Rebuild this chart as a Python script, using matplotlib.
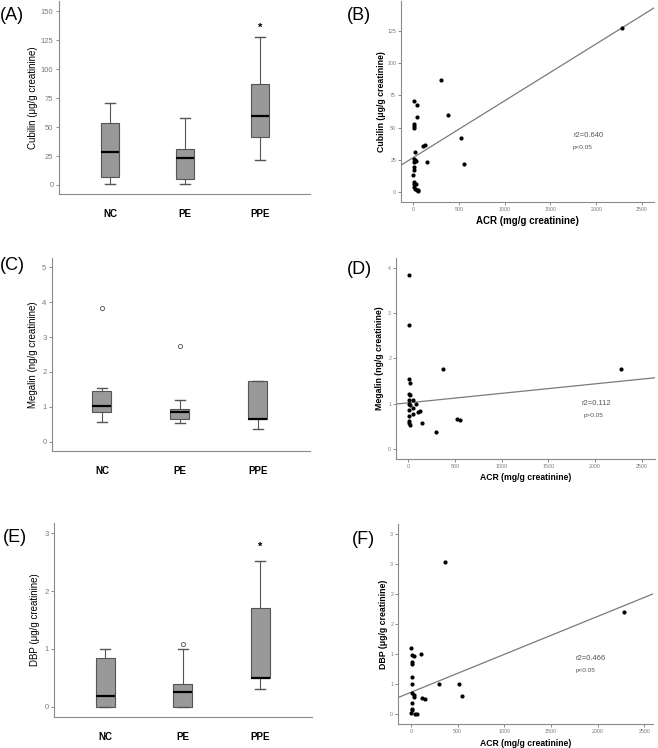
import matplotlib.pyplot as plt

plt.rcParams["font.family"] = ["Liberation Sans", "DejaVu Sans"]

W, H = 658, 748

groups = ["NC", "PE", "PPE"]

# box stats: whislo, q1, med, q3, whishi
cubilin_box = [[0.6, 6.9, 28.2, 53.4, 71.0],
               [1.1, 5.5, 23.3, 31.0, 57.8],
               [21.6, 41.7, 59.8, 87.1, 127.6]]
cubilin_fliers = [[], [], []]
cubilin_star = 136

megalin_box = [[0.55, 0.84, 1.03, 1.46, 1.55],
               [0.52, 0.64, 0.84, 0.93, 1.18],
               [0.35, 0.65, 0.65, 1.75, 1.75]]
megalin_fliers = [[3.83], [2.74], []]

dbp_box = [[0.0, 0.0, 0.18, 0.84, 1.0],
           [0.0, 0.0, 0.25, 0.40, 1.0],
           [0.30, 0.49, 0.49, 1.70, 2.53]]
dbp_fliers = [[], [1.09], []]
dbp_star = 2.76

# scatter data, ACR vs marker
acr_b = [2281, 310, 379, 524, 557, 149, 113, 131, 11, 47, 40, 8, 12, 10, 25,
         10, 20, 35, 12, 8, 6, 4, 6, 12, 30, 12, 25, 40, 55, 60]
cub_b = [126.8, 86.8, 59.8, 41.5, 21.9, 23.0, 36.0, 36.8, 70.3, 67.5, 58.0, 53.0,
         51.5, 50.0, 30.9, 25.8, 25.0, 24.4, 23.3, 19.3, 16.8, 13.4, 7.7, 6.5,
         6.2, 4.0, 2.7, 1.4, 1.4, 1.2]
fit_b = (26.6, 0.0441)

acr_d = [4, 4, 375, 2278, 11, 13, 11, 14, 6, 47, 82, 12, 15, 11, 47, 125, 107,
         47, 11, 11, 6, 14, 150, 296, 517, 553]
meg_d = [3.83, 2.74, 1.76, 1.76, 1.55, 1.46, 1.22, 1.18, 1.09, 1.09, 0.99, 1.0,
         0.97, 0.87, 0.9, 0.83, 0.81, 0.77, 0.72, 0.61, 0.57, 0.54, 0.57, 0.37,
         0.66, 0.65]
fit_d = (1.018, 0.000209)

acr_f = [369, 2283, 0, 8, 32, 107, 8, 11, 11, 8, 303, 517, 550, 11, 32, 36,
         114, 150, 11, 8, 14, 4, 40, 64]
dbp_f = [2.53, 1.70, 1.1, 0.99, 0.98, 1.0, 0.88, 0.84, 0.63, 0.5, 0.5, 0.5, 0.3,
         0.35, 0.32, 0.29, 0.28, 0.25, 0.19, 0.09, 0.07, 0.02, 0.0, 0.0]
fit_f = (0.368, 0.000632)

spine_c = "#8a8a8a"
tick_c = "#7a7a7a"

fig = plt.figure(figsize=(W / 100, H / 100), dpi=100)


def ax_px(l, t, r, b):
    return fig.add_axes([l / W, 1 - b / H, (r - l) / W, (b - t) / H])


def style(ax):
    for s in ["top", "right"]:
        ax.spines[s].set_visible(False)
    for s in ["left", "bottom"]:
        ax.spines[s].set_color(spine_c)
        ax.spines[s].set_linewidth(0.8)


def put_letter(letter):
    fig.text(letter[1] / W, 1 - letter[2] / H, letter[0], fontsize=13,
             ha="left", va="center")


def box_panel(rect, box, fliers, ylim, yticks, ylabel, letter, lab_x, star=None,
              xlim=(0.33, 3.67)):
    ax = ax_px(*rect)
    style(ax)
    stats = []
    for b, f in zip(box, fliers):
        stats.append(dict(whislo=b[0], q1=b[1], med=b[2], q3=b[3], whishi=b[4], fliers=f))
    ax.bxp(stats, positions=[1, 2, 3], widths=0.245, capwidths=0.13, patch_artist=True,
           boxprops=dict(facecolor="#999999", edgecolor="#555555", linewidth=0.8),
           whiskerprops=dict(color="#555555", linewidth=0.8),
           capprops=dict(color="#555555", linewidth=1.0),
           medianprops=dict(color="black", linewidth=1.6),
           flierprops=dict(marker="o", markersize=3, markerfacecolor="none",
                           markeredgecolor="#666666", markeredgewidth=0.7))
    if star is not None:
        ax.text(3, star, "*", ha="center", va="center", fontsize=8, fontweight="bold")
    ax.set_xlim(*xlim)
    ax.set_ylim(*ylim)
    ax.set_yticks(yticks)
    ax.set_xticks([1, 2, 3])
    ax.set_xticklabels(groups, fontsize=7, fontweight="bold")
    ax.tick_params(axis="x", length=0, pad=11)
    ax.tick_params(axis="y", length=2.5, width=0.6, color=tick_c, labelcolor=tick_c,
                   labelsize=5.5, pad=1.5)
    ax.set_ylabel(ylabel, fontsize=7)
    l, t, r, b = rect
    # label coords refer to the right edge of the rotated text
    ax.yaxis.set_label_coords((lab_x + 4.5 - l) / (r - l), 0.5)
    put_letter(letter)
    return ax


def scatter_panel(rect, x, y, fit, xlim, ylim, yticks, ylabel, letter, lab_x, lab_y,
                  txt, yticklabels=None, xlab_size=6.2):
    ax = ax_px(*rect)
    style(ax)
    ax.scatter(x, y, s=9, color="black", zorder=3, linewidths=0)
    xs = [xlim[0], xlim[1]]
    ax.plot(xs, [fit[0] + fit[1] * v for v in xs], color="#7a7a7a", linewidth=0.9)
    ax.set_xlim(*xlim)
    ax.set_ylim(*ylim)
    ax.set_xticks([0, 500, 1000, 1500, 2000, 2500])
    ax.set_yticks(yticks)
    if yticklabels is not None:
        ax.set_yticklabels(yticklabels)
    ax.tick_params(length=2, width=0.6, color=tick_c, labelcolor=tick_c,
                   labelsize=3.8, pad=1.5)
    ax.set_ylabel(ylabel, fontsize=6.3, fontweight="bold")
    ax.set_xlabel("ACR (mg/g creatinine)", fontsize=xlab_size, fontweight="bold")
    l, t, r, b = rect
    ax.yaxis.set_label_coords((lab_x + 4.5 - l) / (r - l), 0.5)
    # xlabel coords refer to the top of the text
    ax.xaxis.set_label_coords(0.5, (b - (lab_y - 4.5)) / (b - t))
    (t1, x1, y1), (t2, x2, y2) = txt
    ax.text(x1, y1, t1, fontsize=5.5, color="#555555", va="center")
    ax.text(x2, y2, t2, fontsize=4.6, color="#555555", va="center")
    put_letter(letter)
    return ax


box_panel((59, 1, 310, 194), cubilin_box, cubilin_fliers, (-7.8, 159),
          [0, 25, 50, 75, 100, 125, 150], "Cubilin (\u03bcg/g creatinine)",
          ("(A)", 0, 15), 33, star=cubilin_star, xlim=(0.32, 3.67))
box_panel((52, 258, 310, 451), megalin_box, megalin_fliers, (-0.27, 5.27),
          [0, 1, 2, 3, 4, 5], "Megalin (ng/g creatinine)",
          ("(C)", 0, 266), 33, xlim=(0.36, 3.67))
box_panel((54, 523, 312, 717), dbp_box, dbp_fliers, (-0.18, 3.18),
          [0, 1, 2, 3], "DBP (\u03bcg/g creatinine)",
          ("(E)", 3, 538), 35, star=dbp_star, xlim=(0.34, 3.67))

scatter_panel((401, 1, 654, 202), acr_b, cub_b, fit_b, (-131, 2631), (-7.7, 148),
              [0, 25, 50, 75, 100, 125], "Cubilin (\u03bcg/g creatinine)",
              ("(B)", 347, 15), 381, 220,
              (("r2=0.640", 1752, 43.8), ("p<0.05", 1741, 34.3)), xlab_size=7)
scatter_panel((396, 258, 655, 459), acr_d, meg_d, fit_d, (-132, 2642), (-0.22, 4.21),
              [0, 1, 2, 3, 4], "Megalin (ng/g creatinine)",
              ("(D)", 347, 270), 380, 478,
              (("r2=0.112", 1857, 1.01), ("p>0.05", 1882, 0.74)))
scatter_panel((398, 524, 653, 724), acr_f, dbp_f, fit_f, (-139, 2592), (-0.16, 3.17),
              [0, 0.5, 1, 1.5, 2, 2.5, 3], "DBP (\u03bcg/g creatinine)",
              ("(F)", 352, 540), 383, 743,
              (("r2=0.466", 1763, 0.93), ("p<0.05", 1763, 0.73)),
              yticklabels=["0", "1", "1", "2", "2", "3", "3"])

fig.savefig("out.png", dpi=100, facecolor="white")
